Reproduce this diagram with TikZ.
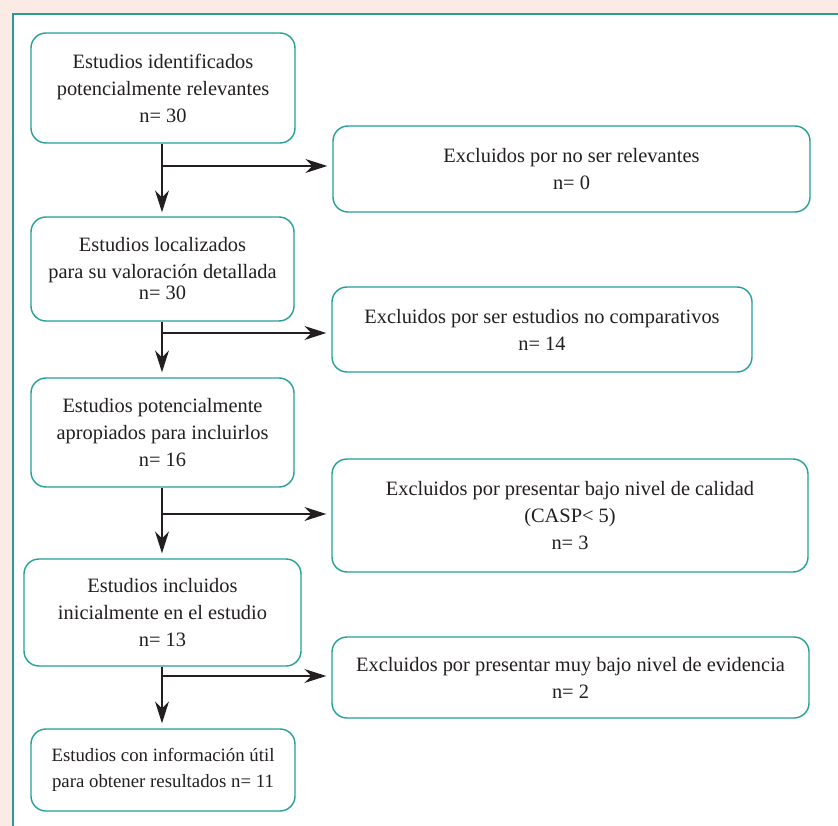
\documentclass[tikz,border=0pt]{standalone}
\usepackage{fontspec}
\setmainfont{Liberation Serif}
\usetikzlibrary{arrows.meta}
\definecolor{pinkbg}{RGB}{252,234,228}
\definecolor{frameteal}{RGB}{40,155,148}
\definecolor{boxteal}{RGB}{36,160,153}
\definecolor{ink}{RGB}{35,31,32}
\tikzset{
  stepbox/.style={draw=boxteal, line width=1.4pt, rounded corners=15pt, fill=white,
    align=center, text=ink, inner sep=0pt,
    font=\fontsize{20.4}{27}\selectfont},
  arr/.style={draw=ink, line width=1.3pt, -{Stealth[length=22pt,width=14pt,inset=7pt]}},
}
\begin{document}
\begin{tikzpicture}[x=1pt,y=-1pt]
\useasboundingbox (0,0) rectangle (838,826);
\clip (0,0) rectangle (838,826);
\fill[pinkbg] (0,0) rectangle (838,826);
\draw[frameteal, line width=1.9pt, fill=white] (13,14) rectangle (860,850);

% left column
\node[stepbox, minimum width=264pt, minimum height=110pt] (b1) at (163,88)
  {Estudios identificados\\potencialmente relevantes\\n= 30};
\node[stepbox, minimum width=263pt, minimum height=104pt] (b2) at (162.5,269)
  {Estudios localizados\\para su valoración detallada\\[-6pt]n= 30};
\node[stepbox, minimum width=263pt, minimum height=109pt] (b3) at (162.5,432.5)
  {Estudios potencialmente\\apropiados para incluirlos\\n= 16};
\node[stepbox, minimum width=277pt, minimum height=107pt] (b4) at (162.5,612.5)
  {Estudios incluidos\\inicialmente en el estudio\\n= 13};
\node[stepbox, minimum width=264pt, minimum height=82pt,
  font=\fontsize{18.8}{26}\selectfont] (b5) at (163,770)
  {Estudios con información útil\\para obtener resultados n= 11};

% right column
\node[stepbox, minimum width=477pt, minimum height=86pt] (r1) at (571.5,169)
  {Excluidos por no ser relevantes\\n= 0};
\node[stepbox, minimum width=420pt, minimum height=85pt] (r2) at (542,329.5)
  {Excluidos por ser estudios no comparativos\\n= 14};
\node[stepbox, minimum width=476pt, minimum height=113pt] (r3) at (570,515.5)
  {Excluidos por presentar bajo nivel de calidad\\(CASP< 5)\\n= 3};
\node[stepbox, minimum width=477pt, minimum height=81pt] (r4) at (570.5,677.5)
  {Excluidos por presentar muy bajo nivel de evidencia\\n= 2};

% junctions
\coordinate (j1) at (162,166);
\coordinate (j2) at (162,333);
\coordinate (j3) at (162,514);
\coordinate (j4) at (162,676);

% vertical arrows
\draw[arr, shorten >=4pt] (b1.south -| j1) -- (b2.north -| j1);
\draw[arr, shorten >=5pt] (b2.south -| j1) -- (b3.north -| j1);
\draw[arr, shorten >=5pt] (b3.south -| j1) -- (b4.north -| j1);
\draw[arr, shorten >=5pt] (b4.south -| j1) -- (b5.north -| j1);

% branch arrows
\draw[arr, shorten >=5pt] (j1) -- (j1 -| r1.west);
\draw[arr, shorten >=5pt] (j2) -- (j2 -| r2.west);
\draw[arr, shorten >=5pt] (j3) -- (j3 -| r3.west);
\draw[arr, shorten >=5pt] (j4) -- (j4 -| r4.west);
\end{tikzpicture}
\end{document}
